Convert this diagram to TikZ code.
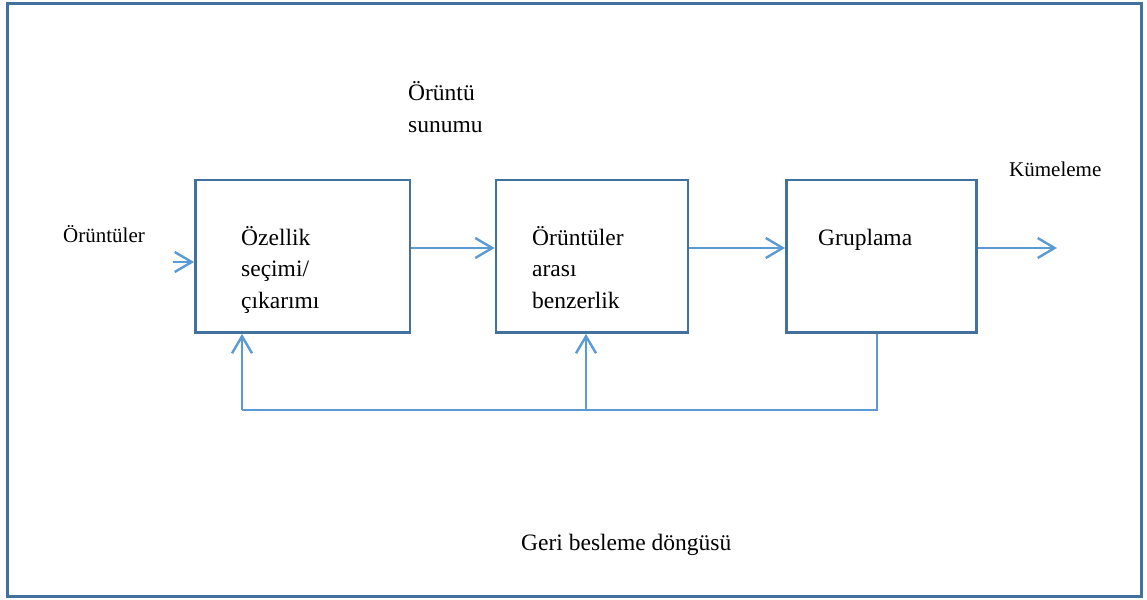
\documentclass[tikz,border=0pt]{standalone}
\usepackage{fontspec}
\setmainfont{Liberation Serif}
\usetikzlibrary{arrows.meta}
\definecolor{framecol}{HTML}{41719C}
\definecolor{linkcol}{HTML}{5B9BD5}
\tikzset{
  blockbox/.style={draw=framecol, line width=2.8pt, inner sep=0pt, minimum height=152.5pt},
  boxtext/.style={font=\fontsize{23.5}{31.5}\selectfont, align=left, inner sep=0pt, anchor=base west},
  plaintext/.style={font=\fontsize{23.5}{31.5}\selectfont, align=left, inner sep=0pt, anchor=base west},
  smalltext/.style={font=\fontsize{21}{25}\selectfont, inner sep=0pt, anchor=base west},
  flow/.style={draw=linkcol, line width=2.2pt, -{Straight Barb[length=17pt,width=20pt,line width=2.4pt]}},
  feedback/.style={draw=linkcol, line width=1.4pt}
}
\begin{document}
\begin{tikzpicture}[x=1pt,y=-1pt]
  \useasboundingbox (0,0) rectangle (1147,599);
  % outer frame
  \draw[framecol, line width=3pt] (7.5,3.5) rectangle (1141,596.5);

  % processing blocks
  \node[blockbox, minimum width=214.5pt] (b1) at (302.75,256.25) {};
  \node[blockbox, minimum width=192pt]   (b2) at (592,256.25) {};
  \node[blockbox, minimum width=190pt]   (b3) at (881.5,256.25) {};

  % block captions (anchored at the baseline of the last line)
  \node[boxtext] (t1) at (241,308) {Özellik\\seçimi/\\çıkarımı};
  \node[boxtext] (t2) at (532,308) {Örüntüler\\arası\\benzerlik};
  \node[boxtext] (t3) at (818,245) {Gruplama};

  % free labels
  \node[smalltext] (lin) at (63,242) {Örüntüler};
  \node[smalltext] (lout) at (1009,176) {Kümeleme};
  \node[plaintext] (lrep) at (408,132) {Örüntü\\sunumu};
  \node[plaintext] (lfb) at (521,550) {Geri besleme döngüsü};

  % forward flow
  \coordinate (inp) at (173,262);
  \coordinate (outp) at (1057,248);
  \draw[flow] (inp) -- (b1.west |- inp);
  \draw[flow] ([yshift=8.25pt]b1.east) -- ([yshift=8.25pt]b2.west);
  \draw[flow] ([yshift=8.25pt]b2.east) -- ([yshift=8.25pt]b3.west);
  \draw[flow] ([yshift=8.25pt]b3.east) -- (outp);

  % feedback loop
  \coordinate (fbA) at (242,410);
  \coordinate (fbB) at (586,410);
  \coordinate (fbC) at (877,410);
  \draw[feedback] (b3.south -| fbC) -- (fbC) -- (fbA);
  \draw[flow] (fbA) -- (b1.south -| fbA);
  \draw[flow] (fbB) -- (b2.south -| fbB);
\end{tikzpicture}
\end{document}
